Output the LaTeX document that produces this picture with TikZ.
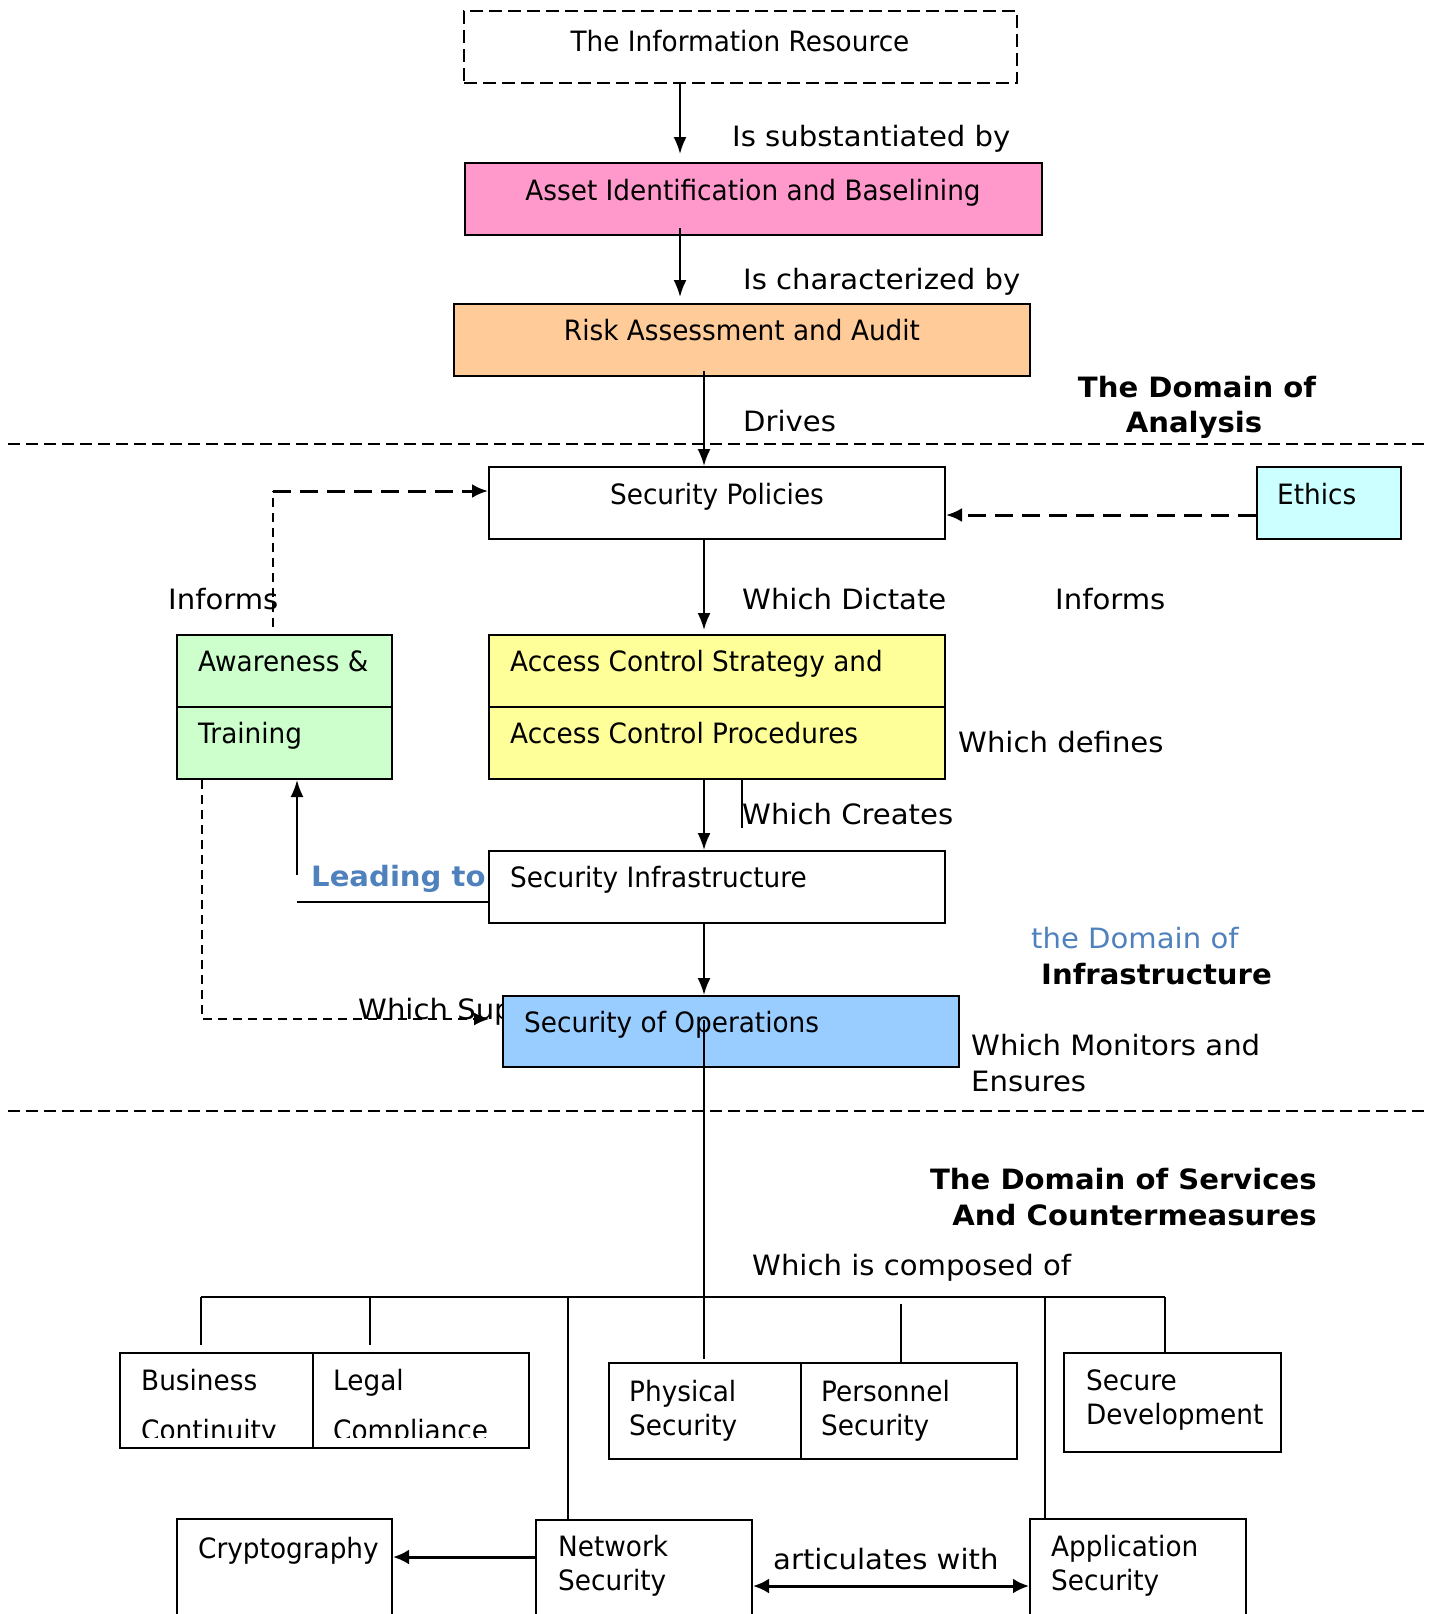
\documentclass[tikz,border=0pt]{standalone}
\usepackage{fontspec}
\newfontfamily\tah{DejaVu Sans}[FakeStretch=0.94]
\newfontfamily\lab{DejaVu Sans}[FakeStretch=1.04]
\newfontfamily\verd{DejaVu Sans}[FakeStretch=1.04]
\usetikzlibrary{arrows.meta,calc}
\definecolor{cpink}{HTML}{FF99CC}
\definecolor{corange}{HTML}{FFCC99}
\definecolor{ccyan}{HTML}{CCFFFF}
\definecolor{cgreen}{HTML}{CCFFCC}
\definecolor{cyellow}{HTML}{FFFF99}
\definecolor{cblue}{HTML}{99CCFF}
\definecolor{ctxtblue}{HTML}{4F81BD}
\newcommand\mybox[6]{\node[box,#6,minimum width={#4-#2},minimum height={#5-#3}] (#1) at ({(#2+#4)/2},{(#3+#5)/2}) {};}
\begin{document}
\begin{tikzpicture}[x=1pt,y=-1pt,
  box/.style={draw, line width=2pt, inner sep=0pt},
  txt/.style={font=\tah\fontsize{28}{34}\selectfont, inner sep=0pt, anchor=base west},
  ctxt/.style={txt, anchor=base},
  lbl/.style={font=\lab\fontsize{28}{34}\selectfont, inner sep=0pt, anchor=base west},
  hd/.style={font=\verd\bfseries\fontsize{28}{34}\selectfont, inner sep=0pt, anchor=base},
  arr/.style={line width=2pt, -{Latex[length=17pt,width=13pt]}},
  ln/.style={line width=2pt},
  sep/.style={line width=2pt, dash pattern=on 12pt off 6pt},
  dasharr/.style={line width=3pt, dash pattern=on 18pt off 9pt, -{Latex[length=16pt,width=14pt]}},
  thindash/.style={line width=1.8pt, dash pattern=on 9pt off 6pt},
]
\useasboundingbox (0,0) rectangle (1434,1614);

% ---- boxes ----
\mybox{info}{464}{11}{1017}{83}{dash pattern=on 13pt off 6pt}
\mybox{asset}{465}{163}{1042}{235}{fill=cpink}
\mybox{risk}{454}{304}{1030}{376}{fill=corange}
\mybox{sp}{489}{467}{945}{539}{fill=white}
\mybox{ethics}{1257}{467}{1401}{539}{fill=ccyan}
\mybox{awareA}{177}{635}{392}{707}{fill=cgreen}
\mybox{awareB}{177}{707}{392}{779}{fill=cgreen}
\mybox{acsA}{489}{635}{945}{707}{fill=cyellow}
\mybox{acsB}{489}{707}{945}{779}{fill=cyellow}
\mybox{si}{489}{851}{945}{923}{fill=white}

% text hidden partly behind the operations box
\node[lbl] (wsup) at (358,1019) {Which Supports};
\mybox{ops}{503}{996}{959}{1067}{fill=cblue}

\mybox{biz}{120}{1353}{313}{1448}{}
\mybox{leg}{313}{1353}{529}{1448}{}
\mybox{phys}{609}{1363}{801}{1459}{}
\mybox{pers}{801}{1363}{1017}{1459}{}
\mybox{secdev}{1064}{1353}{1281}{1452}{}
\mybox{crypto}{177}{1519}{392}{1700}{}
\mybox{netsec}{536}{1520}{752}{1700}{}
\mybox{appsec}{1030}{1519}{1246}{1700}{}

% ---- texts in boxes ----
\node[ctxt] (tinfo) at (740,51) {The Information Resource};
\node[ctxt] (tasset) at (753,200) {Asset Identification and Baselining};
\node[ctxt] (trisk) at (742,340) {Risk Assessment and Audit};
\node[ctxt] (tsp) at (717,504) {Security Policies};
\node[txt] (tethics) at (1277,504) {Ethics};
\node[txt] (taw1) at (198,671) {Awareness \&};
\node[txt] (taw2) at (198,743) {Training};
\node[txt] (tacs1) at (510,671) {Access Control Strategy and};
\node[txt] (tacs2) at (510,743) {Access Control Procedures};
\node[txt] (tsi) at (510,887) {Security Infrastructure};
\node[txt] (tops) at (524,1032) {Security of Operations};
\node[txt] (tbiz1) at (141,1390) {Business};
\node[txt] (tleg1) at (333,1390) {Legal};
\begin{scope}
\clip (120,1300) rectangle (529,1437);
\node[txt] (tbiz2) at (141,1440) {Continuity};
\node[txt] (tleg2) at (333,1440) {Compliance};
\end{scope}
\node[txt] (tph1) at (629,1401) {Physical};
\node[txt] (tph2) at (629,1435) {Security};
\node[txt] (tpe1) at (821,1401) {Personnel};
\node[txt] (tpe2) at (821,1435) {Security};
\node[txt] (tsd1) at (1086,1390) {Secure};
\node[txt] (tsd2) at (1086,1424) {Development};
\node[txt] (tcr) at (198,1558) {Cryptography};
\node[txt] (tns1) at (558,1556) {Network};
\node[txt] (tns2) at (558,1590) {Security};
\node[txt] (tas1) at (1051,1556) {Application};
\node[txt] (tas2) at (1051,1590) {Security};

% ---- labels ----
\node[lbl] (l1) at (732,146) {Is substantiated by};
\node[lbl] (l2) at (743,289) {Is characterized by};
\node[lbl] (l3) at (743,431) {Drives};
\node[hd] (h1a) at (1197,397) {The Domain of};
\node[hd] (h1b) at (1194,432) {Analysis};
\node[lbl] (l4) at (168,609) {Informs};
\node[lbl] (l5) at (742,609) {Which Dictate};
\node[lbl] (l6) at (1055,609) {Informs};
\node[lbl] (l7) at (958,752) {Which defines};
\node[lbl] (l8) at (742,824) {Which Creates};
\node[hd, anchor=base west, text=ctxtblue] (l9) at (311,886) {Leading to};
\node[lbl, text=ctxtblue] (h2a) at (1031,948) {the Domain of};
\node[hd, anchor=base west] (h2b) at (1041,984) {Infrastructure};
\node[lbl] (l10) at (971,1055) {Which Monitors and};
\node[lbl] (l11) at (971,1091) {Ensures};
\node[hd, anchor=base east] (h3a) at (1317,1189) {The Domain of Services};
\node[hd, anchor=base east] (h3b) at (1317,1225) {And Countermeasures};
\node[lbl] (l12) at (752,1275) {Which is composed of};
\node[lbl] (l13) at (773,1569) {articulates with};

% ---- separators ----
\coordinate (s1L) at (8,444); \coordinate (s1R) at (1426,444);
\coordinate (s2L) at (8,1111); \coordinate (s2R) at (1426,1111);
\draw[sep] (s1L) -- (s1R);
\draw[sep] (s2L) -- (s2R);

% ---- connectors ----
\coordinate (xa) at (680,0);
\coordinate (xb) at (704,0);
\coordinate (xc) at (742,0);
\draw[arr, shorten >=8pt] (info.south -| xa) -- (asset.north -| xa);
\draw[arr, shorten <=-8pt, shorten >=6pt] (asset.south -| xa) -- (risk.north -| xa);
\draw[arr, shorten <=-6pt] (risk.south -| xb) -- (sp.north -| xb);
\draw[arr, shorten >=4pt] (sp.south -| xb) -- (acsA.north -| xb);
\draw[arr] (acsB.south -| xb) -- (si.north -| xb);
\draw[arr] (si.south -| xb) -- (ops.north -| xb);
\draw[line width=1.5pt] (acsB.south -| xc) -- ++(0,48);

% ethics informs
\coordinate (ey) at (0,515);
\draw[dasharr] (ethics.west |- ey) -- (sp.east |- ey);
% awareness informs
\coordinate (inf1) at (273,627);
\coordinate (inf2) at (273,491);
\draw[thindash] (inf1) -- (inf2);
\draw[dasharr] (inf2) -- (sp.west |- inf2);
% leading to
\coordinate (lt1) at (297,875);
\coordinate (lt2) at (297,902);
\draw[arr] (lt1) -- (awareB.south -| lt1);
\draw[ln] (lt2) -- (si.west |- lt2);
% which supports
\coordinate (aw1) at (202,1019);
\draw[thindash, -{Latex[length=15pt,width=13pt]}, shorten >=13pt] (awareB.south -| aw1) -- (aw1) -- (ops.west |- aw1);

% operations down to services
\draw[line width=1.5pt] ($(ops.north -| xb)+(0,25)$) -- ($(phys.north -| xb)+(0,-3)$);
\coordinate (busL) at (201,1297);
\coordinate (busR) at (1165,1297);
\draw[ln] (busL) -- (busR);
\coordinate (d2) at (370,1297);
\coordinate (d3) at (568,1297);
\coordinate (d4) at (901,1304);
\coordinate (d5) at (1045,1297);
\draw[ln] (busL) -- ($(biz.north -| busL)+(0,-7)$);
\draw[ln] (d2) -- ($(leg.north -| d2)+(0,-7)$);
\draw[ln] (d3) -- (netsec.north -| d3);
\draw[ln] (d4) -- (pers.north -| d4);
\draw[ln] (d5) -- (appsec.north -| d5);
\draw[ln] (busR) -- (secdev.north -| busR);

% bottom arrows
\coordinate (cy) at (0,1557);
\coordinate (dy) at (0,1586);
\draw[line width=3pt, -{Latex[length=16pt,width=15pt]}] (netsec.west |- cy) -- (crypto.east |- cy);
\draw[line width=3pt, {Latex[length=16pt,width=15pt]}-{Latex[length=16pt,width=15pt]}] (netsec.east |- dy) -- (appsec.west |- dy);
\end{tikzpicture}
\end{document}
